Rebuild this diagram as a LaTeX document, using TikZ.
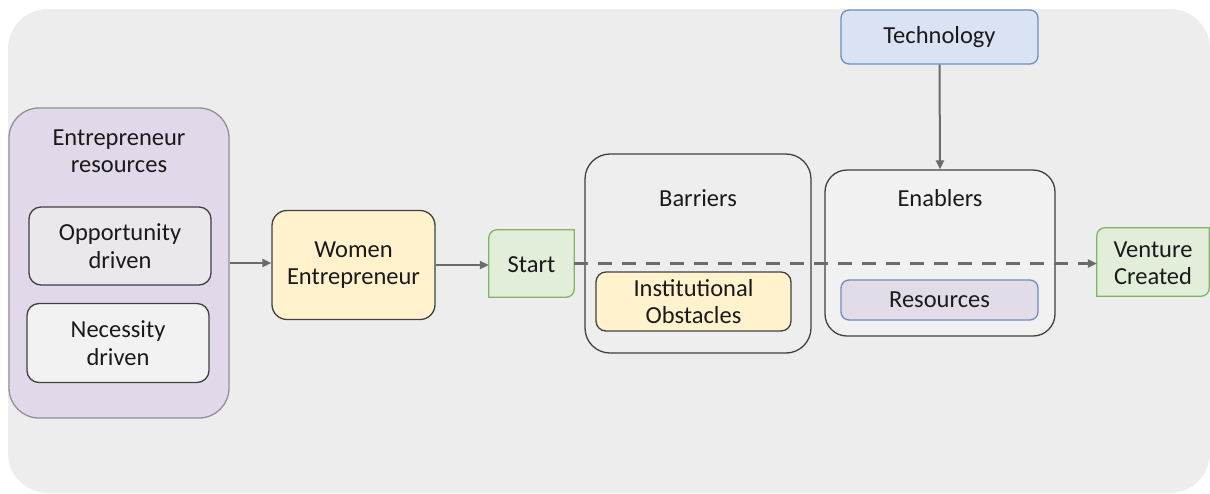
\documentclass[tikz,border=0pt]{standalone}
\usepackage{fontspec}
\setmainfont{Carlito}
\usetikzlibrary{arrows.meta}
\definecolor{bg}{HTML}{EDEDED}
\definecolor{dk}{HTML}{404040}
\definecolor{arrgray}{HTML}{6B6B6B}
\definecolor{lav}{HTML}{E1D9E9}
\definecolor{lavborder}{HTML}{929096}
\definecolor{oppfill}{HTML}{EBE8ED}
\definecolor{necfill}{HTML}{F2F2F2}
\definecolor{yel}{HTML}{FFF2CC}
\definecolor{grn}{HTML}{E2EDDA}
\definecolor{grnborder}{HTML}{82B366}
\definecolor{blu}{HTML}{DAE3F3}
\definecolor{bluborder}{HTML}{6C8EBF}
\definecolor{resfill}{HTML}{E1DCE8}
\definecolor{enfill}{HTML}{F1F1F1}
\definecolor{barfill}{HTML}{EEEEEE}
\definecolor{txt}{HTML}{1A1A1A}
\tikzset{
  txtnode/.style={font=\fontsize{24.5}{27.5}\selectfont, align=center, inner sep=0pt, text=txt},
  box/.style={txtnode, draw=dk, line width=1.3pt, rounded corners=#1},
  arr/.style={draw=arrgray, line width=2pt, -{Triangle[length=9pt,width=8pt]}},
  dasharr/.style={draw=arrgray, line width=2.5pt, dash pattern=on 14pt off 10pt, -{Triangle[length=9pt,width=8pt]}},
  greenshape/.style={fill=grn, draw=grnborder, line width=1.3pt}
}
\begin{document}
\begin{tikzpicture}[x=1pt,y=-1pt]
\useasboundingbox (0,0) rectangle (1210,493);
\fill[bg, rounded corners=40pt] (8,9) rectangle (1210,493);

% left container
\node[box=30pt, draw=lavborder, fill=lav, minimum width=220, minimum height=310] (er) at (119,263) {};
\node[txtnode] (ertitle) at (119,151) {Entrepreneur\\resources};
\node[box=12pt, fill=oppfill, minimum width=182, minimum height=78] (opp) at (120,246) {Opportunity\\driven};
\node[box=12pt, fill=necfill, minimum width=182, minimum height=79] (nec) at (118,343) {Necessity\\driven};

% women entrepreneur
\node[box=15pt, fill=yel, minimum width=163, minimum height=109] (we) at (353.5,265) {Women\\Entrepreneur};

% start
\node[txtnode, minimum width=85, minimum height=67] (st) at (531.5,263.5) {};
\path[greenshape] ([xshift=8pt]st.north west) -- (st.north east) -- ([yshift=8pt]st.south east)
  arc[start angle=0, end angle=-90, radius=8pt] -- (st.south west) -- ([yshift=-8pt]st.north west)
  arc[start angle=180, end angle=90, radius=8pt] -- cycle;
\node[txtnode] (sttext) at ([yshift=-1pt]st.center) {Start};

% barriers
\node[box=25pt, fill=barfill, minimum width=226, minimum height=199] (bar) at (698,253.5) {};
\node[txtnode] (bartitle) at (698,198) {Barriers};
\node[box=10pt, fill=yel, minimum width=195, minimum height=59] (inst) at (693.5,301.5) {Institutional\\Obstacles};

% enablers
\node[box=22pt, fill=enfill, minimum width=230, minimum height=166] (en) at (940,253) {};
\node[txtnode] (entitle) at (940,198) {Enablers};
\node[box=8pt, draw=bluborder, fill=resfill, minimum width=197, minimum height=40] (res) at (939.5,300) {Resources};

% technology
\node[box=8pt, draw=bluborder, fill=blu, minimum width=197, minimum height=54] (tech) at (939.5,37) {Technology};

% venture created
\node[txtnode, minimum width=112, minimum height=68] (vc) at (1153,262) {};
\path[greenshape] ([xshift=8pt]vc.north west) -- (vc.north east) -- ([yshift=8pt]vc.south east)
  arc[start angle=0, end angle=-90, radius=8pt] -- (vc.south west) -- ([yshift=-8pt]vc.north west)
  arc[start angle=180, end angle=90, radius=8pt] -- cycle;
\node[txtnode] (vctext) at ([yshift=-1pt]vc.center) {Venture\\Created};

% connectors
\draw[arr] (er.east) -- (we.west |- er.east);
\draw[arr] (we.east) -- (st.west |- we.east);
\draw[arr] (tech.south) -- (en.north);
\draw[dasharr] (st.east) -- (st.east -| vc.west);
\end{tikzpicture}
\end{document}
